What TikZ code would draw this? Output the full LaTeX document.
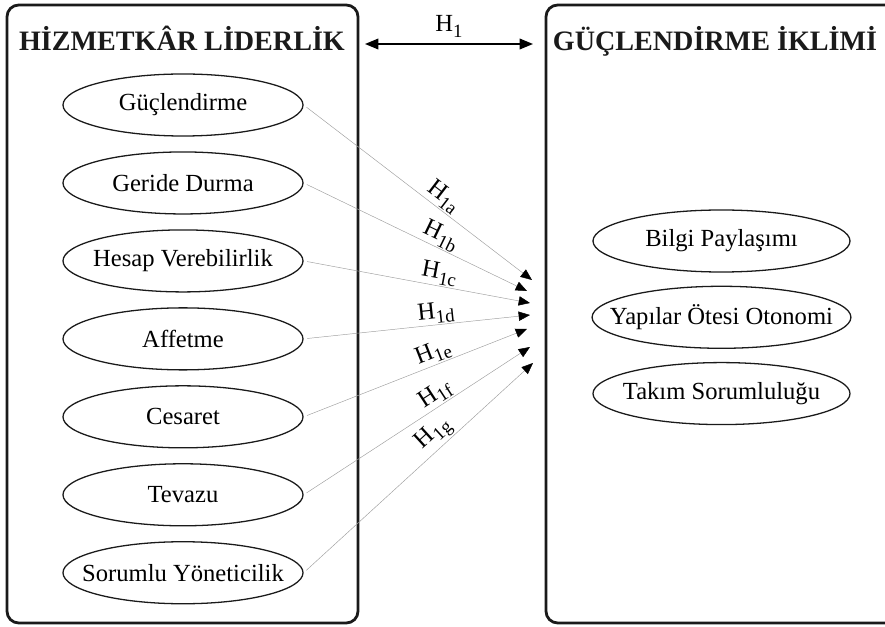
\documentclass[tikz,border=0pt]{standalone}
\usepackage{fontspec}
\setmainfont{Liberation Serif}
\usetikzlibrary{arrows.meta,fit,positioning,shapes.geometric}
\definecolor{Ink}{HTML}{1A1A1A}
\definecolor{LinkGray}{HTML}{A0A0A0}
\newcommand{\hyp}[1]{H\raisebox{-0.45ex}{\fontsize{16}{16}\selectfont #1}}
\tikzset{
  panel/.style={
    draw=Ink, line width=2.4pt, rounded corners=10pt, inner sep=0pt
  },
  heading/.style={
    font=\fontsize{24}{26}\selectfont\bfseries, text=Ink, anchor=base
  },
  factor/.style={
    ellipse, draw=Ink, line width=1.1pt, minimum width=7.2cm,
    minimum height=1.86cm, inner xsep=-0.6cm, inner ysep=0pt,
    font=\fontsize{21}{24}\selectfont
  },
  hlabel/.style={font=\fontsize{21}{22}\selectfont, sloped, above, inner sep=1pt},
  link/.style={-{Triangle[length=3.4mm,width=2.8mm,color=black]}, line width=0.4pt,
    draw=LinkGray, shorten <=3pt},
  biarrow/.style={{Triangle[length=4mm,width=3.2mm]}-{Triangle[length=4mm,width=3.2mm]},
    line width=1.2pt, draw=black}
}

\begin{document}
\begin{tikzpicture}[x=0.03cm,y=-0.03cm]
    \useasboundingbox (0,0) rectangle (885,627);
    % the two constructs
    \node[panel,fit={(7,5) (358,623)}] (lbox) {};
    \node[panel,fit={(546,5) (910,623)}] (rbox) {};
    \node[heading] (lhead) at (182,51) {HİZMETKÂR LİDERLİK};
    \node[heading] (rhead) at (715,51) {GÜÇLENDİRME İKLİMİ};
    % dimensions of servant leadership
    \node[factor] (guc) at (183,105) {Güçlendirme};
    \node[factor,below=0.44cm of guc] (geri) {Geride Durma};
    \node[factor,below=0.44cm of geri] (hesap) {Hesap Verebilirlik};
    \node[factor,below=0.44cm of hesap] (affet) {Affetme};
    \node[factor,below=0.44cm of affet] (cesaret) {Cesaret};
    \node[factor,below=0.44cm of cesaret] (tevazu) {Tevazu};
    \node[factor,below=0.44cm of tevazu] (sorumlu) {Sorumlu Yöneticilik};
    % dimensions of empowerment climate
    \node[factor,minimum width=7.71cm] (bilgi) at (721.5,241) {Bilgi Paylaşımı};
    \node[factor,minimum width=7.71cm,below=0.39cm of bilgi] (yapi) {Yapılar Ötesi Otonomi};
    \node[factor,minimum width=7.71cm,below=0.39cm of yapi] (takim) {Takım Sorumluluğu};
    % arrow tips
    \coordinate (t1) at (532,280);
    \coordinate (t2) at (527,291);
    \coordinate (t3) at (530,303);
    \coordinate (t4) at (530,315);
    \coordinate (t5) at (527,329);
    \coordinate (t6) at (530,347);
    \coordinate (t7) at (533,363);
    \draw[link] (guc.east) -- node[hlabel,pos=0.58] {\hyp{1a}} (t1);
    \draw[link] (geri.east) -- node[hlabel,pos=0.59] {\hyp{1b}} (t2);
    \draw[link] (hesap.east) -- node[hlabel,pos=0.59] {\hyp{1c}} (t3);
    \draw[link] (affet.east) -- node[hlabel,pos=0.59] {\hyp{1d}} (t4);
    \draw[link] (cesaret.east) -- node[hlabel,pos=0.6] {\hyp{1e}} (t5);
    \draw[link] (tevazu.east) -- node[hlabel,pos=0.61] {\hyp{1f}} (t6);
    \draw[link] (sorumlu.east) -- node[hlabel,pos=0.61] {\hyp{1g}} (t7);
    % H1 between the constructs
    \coordinate (hl) at (365,44);
    \coordinate (hr) at (533,44);
    \draw[biarrow] (hl) -- node[above=2pt,font=\fontsize{21}{22}\selectfont] (h1) {\hyp{1}} (hr);
  \end{tikzpicture}
\end{document}
